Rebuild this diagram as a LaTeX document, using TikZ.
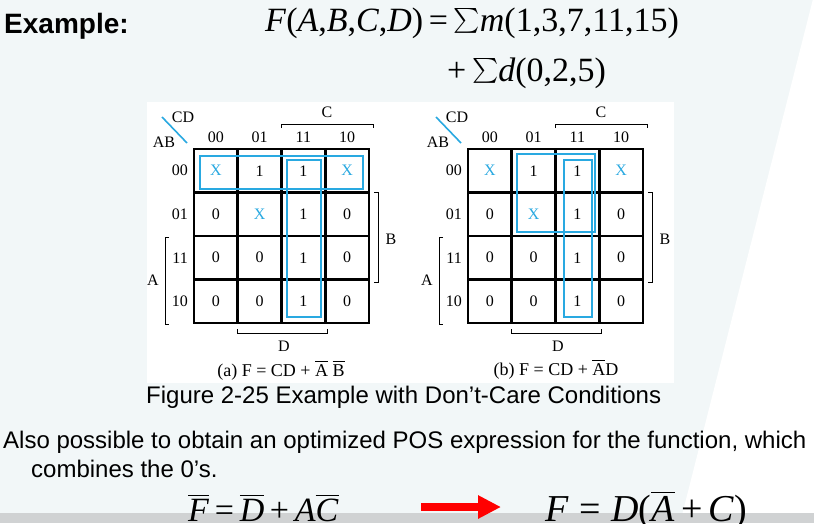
\documentclass[tikz,border=0pt]{standalone}
\usepackage{amsmath}
\usepackage{fontspec}
\setmainfont{Liberation Serif}
\setsansfont{Liberation Sans}
\usetikzlibrary{arrows.meta,calc}
\definecolor{slidebg}{HTML}{F2F7F8}
\definecolor{barg}{HTML}{D0D2D3}
\definecolor{loopc}{HTML}{29A9E1}
\newcommand{\mi}[1]{\textit{#1}}
\newcommand{\ovl}[1]{$\overline{\hbox{#1}}$}
\newcommand{\bigsum}{\raisebox{4pt}{\fontsize{25}{25}\selectfont$\textstyle\sum$}}
\tikzset{
  cell/.style={draw, line width=2.8pt, minimum width=43.75pt, minimum height=43.5pt, inner sep=0pt, outer sep=0pt, font=\fontsize{16}{16}\selectfont},
  hdr/.style={inner sep=0pt, font=\fontsize{16}{16}\selectfont},
  brk/.style={line width=0.8pt},
  grp/.style={draw=loopc, line width=2pt},
  slash/.style={draw=loopc, line width=1.6pt},
  sans/.style={inner sep=0pt, anchor=base west, font=\sffamily\fontsize{24}{28}\selectfont},
  eqn/.style={inner sep=0pt, anchor=base west, font=\fontsize{34}{40}\selectfont},
  redarr/.style={-{Triangle[length=23pt,width=22pt]}, line width=8pt, draw=red},
}
\begin{document}
\begin{tikzpicture}[x=1pt, y=-1pt]
\useasboundingbox (0,0) rectangle (814,523);
\clip (0,0) rectangle (814,523);

% slide background
\fill[slidebg] (0,0) rectangle (814,523);
\fill[white] (814,-5) -- (814,523) -- (680,523) -- cycle;
\fill[barg] (0,513) rectangle (814,523);
\fill[white] (147,102) rectangle (674,383);

% header
\node[inner sep=0pt, anchor=base west, font=\sffamily\bfseries\fontsize{28}{32}\selectfont] (ex) at (4,33) {Example:};
\node[eqn] (fdef) at (265,31) {\mi{F}(\mi{A},\mi{B},\mi{C},\mi{D})\,=\,\bigsum\mi{m}(1,3,7,11,15)};
\node[eqn] (fdc) at (447,81) {+\,\bigsum\mi{d}(0,2,5)};

% ───────────── the two maps ─────────────
\foreach \m/\ox in {a/194, b/468}{
\begin{scope}[shift={(\ox,149)}]
  \foreach \row [count=\i from 0] in {{X/loopc,1/black,1/black,X/loopc},{0/black,X/loopc,1/black,0/black},{0/black,0/black,1/black,0/black},{0/black,0/black,1/black,0/black}}
    \foreach \v/\c [count=\j from 0] in \row
      \node[cell, text=\c] (\m-\i-\j) at ({(\j+0.5)*43.75},{(\i+0.5)*43.5}) {\v};
  \foreach \h [count=\k from 0] in {00,01,11,10}{
    \node[hdr] (\m-c\k) at ({(\k+0.5)*43.75},-11.5) {\h};
    \node[hdr, anchor=east] (\m-r\k) at (-6,{(\k+0.5)*43.5}) {\h};
  }
  \node[hdr] (\m-cd) at (-11,-32) {CD};
  \node[hdr] (\m-ab) at (-30,-7) {AB};
  \draw[slash] (-32,-32) -- (-7,-6);
  % variable brackets
  \draw[brk] (87.5,-21) -- (87.5,-25) -- (179,-25) -- (179,-21);
  \node[hdr] (\m-C) at (133,-37) {C};
  \draw[brk] (180,43) -- (184,43) -- (184,133) -- (180,133);
  \node[hdr] (\m-B) at (197,90) {B};
  \draw[brk] (-25,88) -- (-29,88) -- (-29,175) -- (-25,175);
  \node[hdr] (\m-A) at (-41,131) {A};
  \draw[brk] (43,180) -- (43,184) -- (133,184) -- (133,180);
  \node[hdr] (\m-D) at (90,197) {D};
\end{scope}
}
\node[inner sep=0pt, anchor=base, font=\fontsize{18}{20}\selectfont] (capa) at (281,376) {(a) F = CD + \ovl{A} \ovl{B}};
\node[inner sep=0pt, anchor=base, font=\fontsize{18}{20}\selectfont] (capb) at (556,375) {(b) F = CD + \ovl{A}D};

% groupings
\draw[grp] ($(a-0-0.north west)+(6,7)$) rectangle ($(a-0-3.south east)+(-6,-4)$);
\draw[grp] ($(a-0-2.north west)+(5.5,11)$) rectangle ($(a-3-2.south east)+(-4,-6)$);
\draw[grp] ($(b-0-1.north west)+(5,5)$) rectangle ($(b-1-2.south east)+(-4,-4)$);
\draw[grp] ($(b-0-2.north west)+(8.5,11)$) rectangle ($(b-3-2.south east)+(-7,-6)$);

% text below
\node[sans] (figcap) at (146,403) {Figure 2-25 Example with Don’t-Care Conditions};
\node[sans] (also) at (3,448) {Also possible to obtain an optimized POS expression for the function, which};
\node[sans] (comb) at (31,477) {combines the 0’s.};

\node[eqn, font=\fontsize{34}{38}\selectfont] (fbar) at (188,521) {\ovl{\mi{F}}\,=\,\ovl{\mi{D}}\,+\,\mi{A}\ovl{\mi{C}}};
\node[eqn, font=\fontsize{38}{42}\selectfont] (fpos) at (545,521) {\mi{F}\;=\;\mi{D}(\ovl{\mi{A}}\,+\,\mi{C})};
\coordinate (arrS) at (421,507);
\coordinate (arrE) at (501,507);
\draw[redarr] (arrS) -- (arrE);

\end{tikzpicture}
\end{document}
